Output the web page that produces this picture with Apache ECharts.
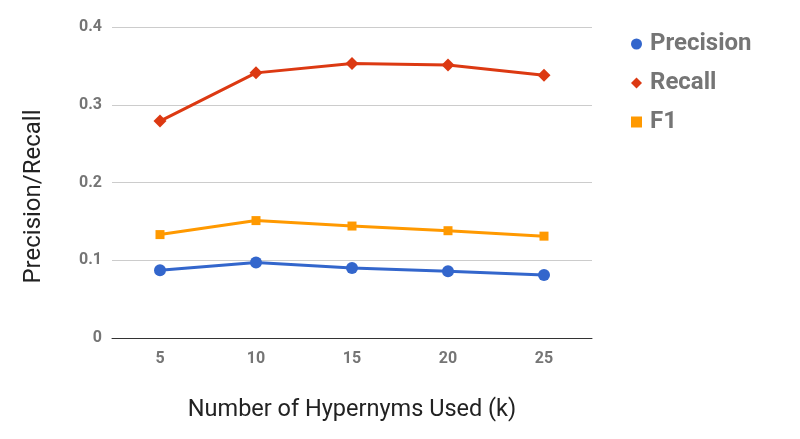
<!DOCTYPE html>
<html>
<head>
<meta charset="utf-8">
<script src="https://cdn.jsdelivr.net/npm/echarts@6/dist/echarts.min.js"></script>
<style>
  html, body { margin: 0; padding: 0; background: #fff; }
  #chart { width: 800px; height: 439px; }
</style>
</head>
<body>
<div id="chart"></div>
<script>
// data
const categories = ["5", "10", "15", "20", "25"];
const precision = [0.087, 0.097, 0.090, 0.086, 0.081];
const recall = [0.279, 0.341, 0.353, 0.351, 0.338];
const f1 = [0.133, 0.151, 0.144, 0.138, 0.131];

const chart = echarts.init(document.getElementById("chart"));

const option = {
  animation: false,
  textStyle: { fontFamily: "Roboto" },
  grid: { left: 112, right: 208, top: 27, bottom: 101 },
  legend: {
    orient: "vertical",
    left: 626,
    top: 27,
    itemGap: 15,
    itemWidth: 11,
    itemHeight: 11,
    textStyle: { color: "#757575", fontSize: 24, fontWeight: "bold", fontFamily: "Roboto", padding: [0, 0, 0, 3] },
    data: [
      { name: "Precision", icon: "circle" },
      { name: "Recall", icon: "diamond" },
      { name: "F1", icon: "rect" }
    ]
  },
  xAxis: {
    type: "category",
    data: categories,
    boundaryGap: true,
    name: "Number of Hypernyms Used (k)",
    nameLocation: "middle",
    nameGap: 60,
    nameTextStyle: { color: "#222", fontSize: 23.5 },
    axisLine: { lineStyle: { color: "#333", width: 1 } },
    axisTick: { show: false },
    axisLabel: { color: "#757575", fontSize: 16, fontWeight: "bold", margin: 13 }
  },
  yAxis: {
    type: "value",
    min: 0,
    max: 0.4,
    interval: 0.1,
    name: "Precision/Recall",
    nameLocation: "middle",
    nameGap: 66,
    // pushed down a bit, the reference title is not centred on the grid
    nameTextStyle: { color: "#222", fontSize: 24, padding: [0, 28, 0, 0] },
    axisLine: { show: false },
    axisTick: { show: false },
    splitLine: { lineStyle: { color: "#cccccc" } },
    axisLabel: { color: "#757575", fontSize: 16, fontWeight: "bold", margin: 10 }
  },
  series: [
    {
      name: "Precision",
      type: "line",
      data: precision,
      symbol: "circle",
      symbolSize: 12,
      color: "#3366cc",
      lineStyle: { width: 3 }
    },
    {
      name: "Recall",
      type: "line",
      data: recall,
      symbol: "diamond",
      symbolSize: 13,
      color: "#dc3912",
      lineStyle: { width: 3 }
    },
    {
      name: "F1",
      type: "line",
      data: f1,
      symbol: "rect",
      symbolSize: 9,
      color: "#ff9900",
      lineStyle: { width: 3 }
    }
  ]
};

chart.setOption(option);
</script>
</body>
</html>
